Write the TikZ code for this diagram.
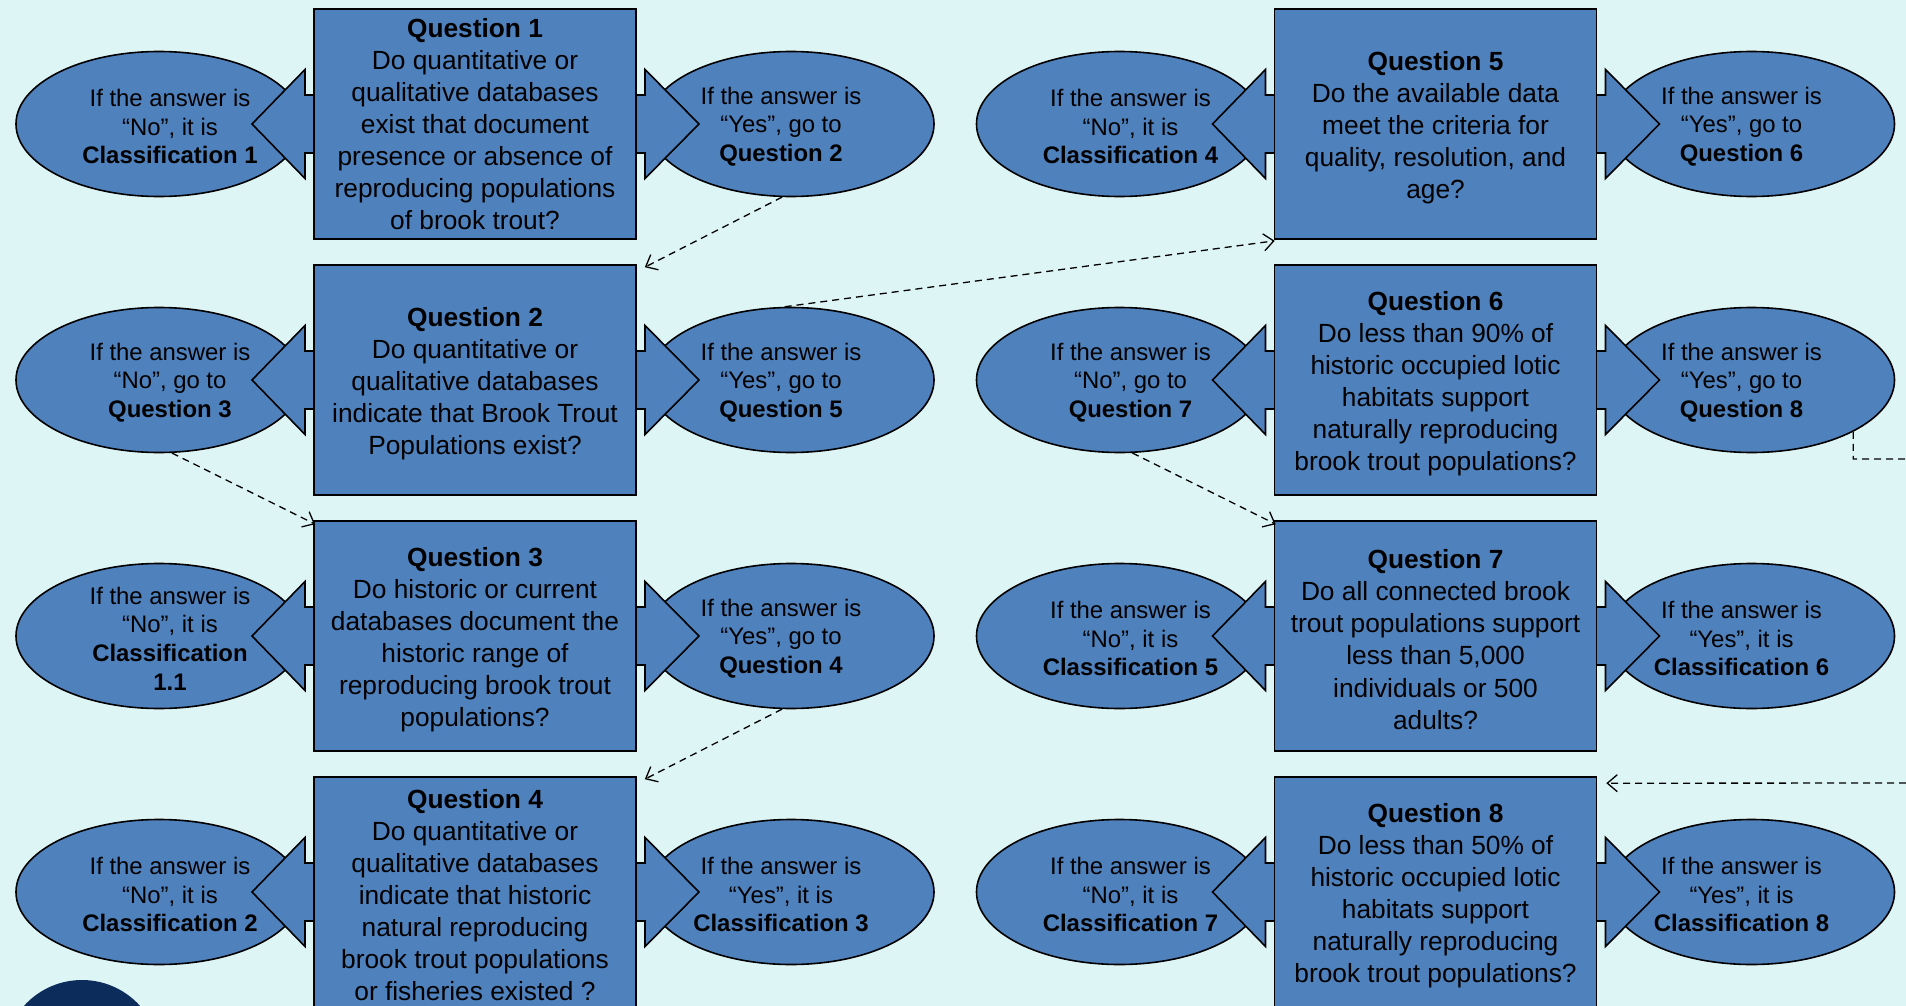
\documentclass[tikz,border=0pt]{standalone}
\usepackage{fontspec}
\setmainfont{Liberation Sans}
\usetikzlibrary{shapes.geometric,arrows.meta}
\definecolor{bgc}{HTML}{DEF5F5}
\definecolor{fillc}{HTML}{4F81BD}
\definecolor{navyc}{HTML}{0C2D5C}
\tikzset{
 qbox/.style={draw=black, line width=1.6pt, fill=fillc, minimum width=322pt, minimum height=230pt, inner sep=0pt},
 qtext/.style={align=center, inner sep=0pt, font=\fontsize{26.3}{32.1}\selectfont},
 ans/.style={draw=black, line width=1.6pt, fill=fillc, ellipse, minimum width=286pt, minimum height=145pt, inner sep=0pt},
 anstext/.style={align=center, font=\fontsize{23.9}{28.7}\selectfont, inner sep=0pt},
 arr/.style={draw=black, line width=1.6pt, fill=fillc, line join=miter},
 conn/.style={line width=1.3pt, dash pattern=on 7pt off 5pt, -{Straight Barb[length=10pt,width=17pt]}}
}
\newcommand\qunit[7]{%
 \node[ans] (#1L) at (#2-316,#3) {};
 \node[ans] (#1R) at (#2+316,#3) {};
 \draw[arr] (#2-223,#3) -- (#2-170,#3-54.5) -- (#2-170,#3-29) -- (#2+170,#3-29) -- (#2+170,#3-54.5) -- (#2+224,#3) -- (#2+170,#3+54.5) -- (#2+170,#3+29) -- (#2-170,#3+29) -- (#2-170,#3+54.5) -- cycle;
 \node[qbox] (#1) at (#2,#3) {};
 \node[qtext] (#1t) at (#2,#3+#7) {#5};
 \node[anstext] (#1Lt) at (#2-305,#3+2.5) {#4};
 \node[anstext] (#1Rt) at (#2+306,#3+2.5) {#6};
}
\begin{document}
\begin{tikzpicture}[x=1pt,y=-1pt]
\useasboundingbox (0,0) rectangle (1906,1006);
\fill[bgc] (0,0) rectangle (1906,1006);
\clip (0,0) rectangle (1906,1006);
\fill[navyc] (82,1058) circle (78pt);
% left column
\qunit{q1}{475}{124}{If the answer is\\“No”, it is\\\textbf{Classification 1}}{\textbf{Question 1}\\Do quantitative or\\qualitative databases\\exist that document\\presence or absence of\\reproducing populations\\of brook trout?}{If the answer is\\“Yes”, go to\\\textbf{Question 2}}{0}
\qunit{q2}{475}{380}{If the answer is\\“No”, go to\\\textbf{Question 3}}{\textbf{Question 2}\\Do quantitative or\\qualitative databases\\indicate that Brook Trout\\Populations exist?}{If the answer is\\“Yes”, go to\\\textbf{Question 5}}{3.5}
\qunit{q3}{475}{636}{If the answer is\\“No”, it is\\\textbf{Classification}\\\textbf{1.1}}{\textbf{Question 3}\\Do historic or current\\databases document the\\historic range of\\reproducing brook trout\\populations?}{If the answer is\\“Yes”, go to\\\textbf{Question 4}}{3.5}
\qunit{q4}{475}{892}{If the answer is\\“No”, it is\\\textbf{Classification 2}}{\textbf{Question 4}\\Do quantitative or\\qualitative databases\\indicate that historic\\natural reproducing\\brook trout populations\\or fisheries existed ?}{If the answer is\\“Yes”, it is\\\textbf{Classification 3}}{3}
% right column
\qunit{q5}{1435.5}{124}{If the answer is\\“No”, it is\\\textbf{Classification 4}}{\textbf{Question 5}\\Do the available data\\meet the criteria for\\quality, resolution, and\\age?}{If the answer is\\“Yes”, go to\\\textbf{Question 6}}{3.5}
\qunit{q6}{1435.5}{380}{If the answer is\\“No”, go to\\\textbf{Question 7}}{\textbf{Question 6}\\Do less than 90\% of\\historic occupied lotic\\habitats support\\naturally reproducing\\brook trout populations?}{If the answer is\\“Yes”, go to\\\textbf{Question 8}}{3.5}
\qunit{q7}{1435.5}{636}{If the answer is\\“No”, it is\\\textbf{Classification 5}}{\textbf{Question 7}\\Do all connected brook\\trout populations support\\less than 5,000\\individuals or 500\\adults?}{If the answer is\\“Yes”, it is\\\textbf{Classification 6}}{3.5}
\qunit{q8}{1435.5}{892}{If the answer is\\“No”, it is\\\textbf{Classification 7}}{\textbf{Question 8}\\Do less than 50\% of\\historic occupied lotic\\habitats support\\naturally reproducing\\brook trout populations?}{If the answer is\\“Yes”, it is\\\textbf{Classification 8}}{3.5}
% connectors
\draw[conn] (q1R.-97) -- ([shift={(8,3)}]q2.north east);
\draw[conn] (q2R.95) -- ([shift={(1,1)}]q5.south west);
\draw[conn] (q2L.-80) -- ([shift={(2,4)}]q3.north west);
\draw[conn] (q3R.-97) -- ([shift={(8,3)}]q4.north east);
\draw[conn] (q6L.-80) -- ([shift={(2,4)}]q7.north west);
\draw[conn] (q6R.-27) |- (1950,459) -- (1950,783) -- ([shift={(9,7)}]q8.north east);
\end{tikzpicture}
\end{document}
